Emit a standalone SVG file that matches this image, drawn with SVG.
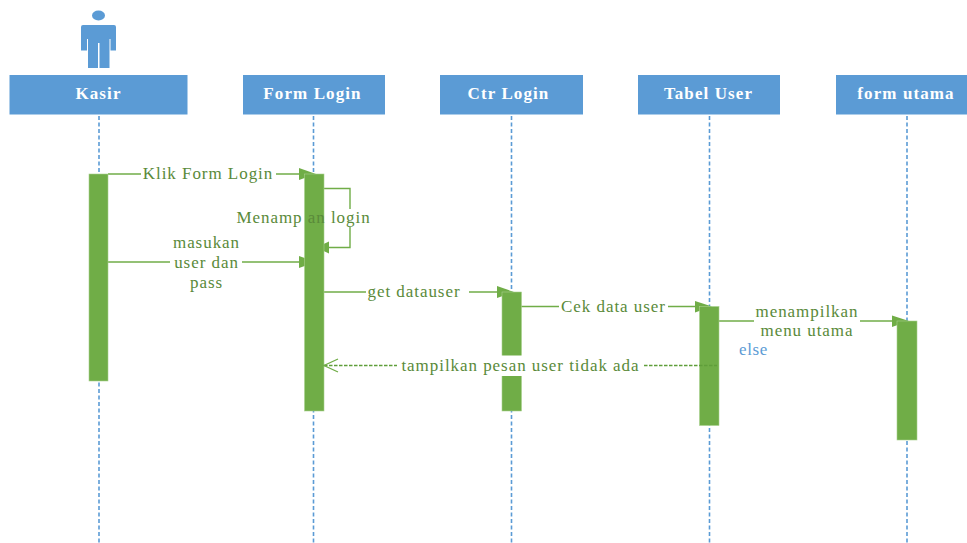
<svg xmlns="http://www.w3.org/2000/svg" width="967" height="543" viewBox="0 0 967 543">
<style>
.head{fill:#5B9BD5}
.life{stroke:#5B9BD5;stroke-width:1.6;stroke-dasharray:4 2.5;fill:none}
.bar{fill:#70AD47;stroke:#A9D18E;stroke-width:.6}
.msg{stroke:#70AD47;stroke-width:1.4;fill:none}
.tip{fill:#70AD47}
.mask{fill:#fff}
text{font-family:"Liberation Serif","Times New Roman",serif;text-anchor:middle}
.t{font-size:17px;letter-spacing:.95px;fill:#5A8A3A}
.h{font-size:17px;font-weight:bold;letter-spacing:1.1px;fill:#fff}
</style>
<g id="lifelines">
<path class="life" d="M99 116V543"/>
<path class="life" d="M313.500 116V543"/>
<path class="life" d="M511.500 116V543"/>
<path class="life" d="M709.500 116V543"/>
<path class="life" d="M907 116V543"/>
</g>
<g id="actor">
<ellipse class="head" cx="98.500" cy="15.500" rx="6.500" ry="5"/>
<path class="head" d="M83 25H114Q116 25 116 27V50.500H110.500V39H109.500V68H99.500V43H98V68H88V39H87V50.500H81V27Q81 25 83 25Z"/>
</g>
<g id="node-kasir"><rect class="head" x="9.500" y="75" width="178" height="39.500"/><text class="h" x="98.500" y="99">Kasir</text></g>
<g id="node-form-login"><rect class="head" x="243" y="75" width="142" height="39.500"/><text class="h" x="312.500" y="99">Form Login</text></g>
<g id="node-ctr-login"><rect class="head" x="440" y="75" width="143" height="39.500"/><text class="h" x="508.500" y="99">Ctr Login</text></g>
<g id="node-tabel-user"><rect class="head" x="638" y="75" width="142" height="39.500"/><text class="h" x="708.500" y="99">Tabel User</text></g>
<g id="node-form-utama"><rect class="head" x="836" y="75" width="131" height="39.500"/><text class="h" x="906" y="99">form utama</text></g>
<g id="connectors">
<path class="msg" d="M108 174H305"/>
<path class="tip" d="M299 168L316 174L299 180Z"/>
<path class="msg" d="M324 188.500H350V247.500H324"/>
<path class="tip" d="M329 241.500L316 247.500L329 253.500Z"/>
<path class="msg" d="M108 262H305"/>
<path class="tip" d="M299 256L316 262L299 268Z"/>
<path class="msg" d="M324 292H505"/>
<path class="tip" d="M497 286L514 292L497 298Z"/>
<path class="msg" d="M521 306.500H703"/>
<path class="tip" d="M695 301L712 306.500L695 312.500Z"/>
<path class="msg" d="M709 321H900"/>
<path class="tip" d="M892 315.500L909 321L892 327Z"/>
</g>
<g id="bars">
<rect class="bar" x="89" y="174" width="19" height="207"/>
<rect class="bar" x="304.500" y="174" width="19.500" height="237"/>
<rect class="bar" x="502" y="292" width="19.500" height="119"/>
<rect class="bar" x="699.500" y="306.500" width="19.500" height="119"/>
<rect class="bar" x="897" y="321" width="20" height="119"/>
</g>
<g id="labels">
<rect class="mask" x="141" y="164" width="135" height="20"/><text class="t" x="208" y="179">Klik Form Login</text>
<rect class="mask" x="345" y="209" width="28" height="18"/><text class="t" x="303.500" y="223">Menamp an login</text>
<rect class="mask" x="170" y="234" width="72" height="58"/><text class="t" x="206.500" y="248">masukan</text><text class="t" x="206.500" y="268">user dan</text><text class="t" x="206.500" y="288">pass</text>
<rect class="mask" x="366" y="282" width="103" height="20"/><text class="t" x="414" y="297">get datauser</text>
<rect class="mask" x="559" y="297" width="109" height="19"/><text class="t" x="613.500" y="312">Cek data user</text>
<rect class="mask" x="754" y="303" width="106" height="38"/><text class="t" x="807" y="317">menampilkan</text><text class="t" x="807" y="336">menu utama</text>
<text x="753.500" y="355" style="font-size:17px;letter-spacing:.6px;fill:#5B9BD5">else</text>
<rect class="mask" x="397" y="355.500" width="247" height="20.500"/>
<path d="M324 365.500H397M644 365.500H717" stroke="#5F9E3A" stroke-width="1.500" stroke-dasharray="3.500 1.500" fill="none"/>
<path d="M338 359L324 365.500L338 372" stroke="#70AD47" stroke-width="1.300" fill="none"/>
<text class="t" x="520.500" y="371">tampilkan pesan user tidak ada</text>
</g>
</svg>
